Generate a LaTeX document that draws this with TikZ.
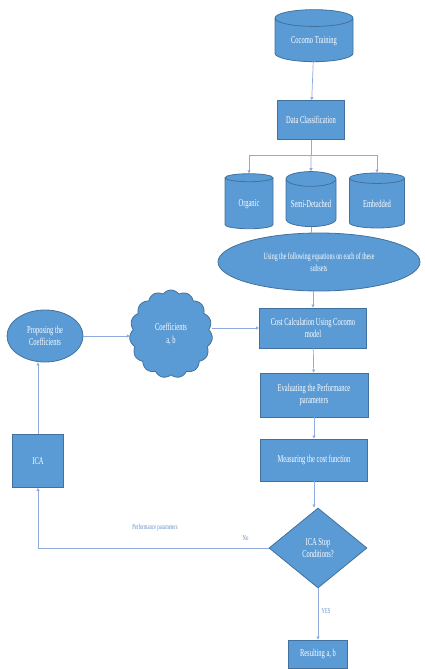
\documentclass[tikz,border=0pt]{standalone}
\usepackage{fontspec}
\setmainfont{Liberation Serif}[FakeStretch=0.62]
\usetikzlibrary{arrows.meta,shapes.geometric,shapes.symbols}
\definecolor{boxfill}{HTML}{5B9BD5}
\definecolor{boxline}{HTML}{41719C}
\definecolor{wire}{HTML}{8FAADC}
\definecolor{labtext}{HTML}{5B8FC8}

\begin{document}
\begin{tikzpicture}[x=1pt,y=-1pt,
font=\fontsize{10.5}{12.5}\selectfont,
box/.style={draw=boxline,fill=boxfill,text=white,line width=0.8pt,align=center,inner sep=1pt},
stepbox/.style={box,rectangle,minimum width=#1},
store/.style={box,cylinder,shape border rotate=90,aspect=0.35},
flow/.style={wire,line width=0.7pt,-{Triangle[length=3pt,width=3pt]}},
wirelabel/.style={text=labtext,font=\fontsize{7.5}{8}\selectfont}]
\useasboundingbox (0,0) rectangle (425,669);
% main column
\node[store,minimum width=78pt,minimum height=52pt] (train) at (314,41) {Cocomo Training};
\node[stepbox=67pt,minimum height=39pt] (classify) at (311,120) {Data Classification};
\coordinate (split) at (311,155);
\node[store,minimum width=48pt,minimum height=55pt] (organic) at (249,204) {Organic};
\node[store,minimum width=50pt,minimum height=55pt] (semi) at (311,204) {Semi-Detached};
\node[store,minimum width=55pt,minimum height=55pt] (embedded) at (377,204) {Embedded};
\node[box,ellipse,minimum width=202pt,minimum height=58pt,inner sep=0pt,font=\fontsize{9.5}{11.5}\selectfont] (equations) at (319,262) {Using the following equations on each of these\\subsets};
\node[stepbox=107pt,minimum height=40pt] (costcalc) at (313,328) {Cost Calculation Using Cocomo\\model};
\node[stepbox=108pt,minimum height=44pt] (evaluate) at (314,395) {Evaluating the Performance\\parameters};
\node[stepbox=107pt,minimum height=42pt] (measure) at (314,460) {Measuring the cost function};
\node[box,diamond,minimum width=98pt,minimum height=80pt,inner sep=0pt] (stop) at (318,548) {ICA Stop\\Conditions?};
\node[stepbox=59pt,minimum height=28pt] (result) at (318,654) {Resulting a, b};
% ICA loop
\node[stepbox=51pt,minimum height=53pt] (ica) at (38,461) {ICA};
\node[box,ellipse,minimum width=76pt,minimum height=52pt,inner sep=0pt] (propose) at (45,336) {Proposing the\\Coefficients};
\node[box,cloud,cloud puffs=15,cloud puff arc=110,minimum width=83pt,minimum height=88pt,inner sep=0pt] (coeffs) at (171,334) {Coefficients\\a, b};
% connectors
\draw[flow] (train) -- (classify);
\draw[wire,line width=0.7pt] (classify) -- (split);
\draw[flow] (split) -| (organic.north);
\draw[flow] (split) -- (semi.north);
\draw[flow] (split) -| (embedded.north);
\draw[wire,line width=0.7pt] (semi.south) -- (equations.north -| semi.south);
\draw[flow] (equations.south -| costcalc.north) -- (costcalc.north);
\draw[flow] (costcalc) -- (evaluate);
\draw[flow] (evaluate) -- (measure);
\draw[flow] (measure.south) -- (stop.north -| measure.south);
\draw[flow] (stop) -- node[wirelabel,right,pos=0.45] {YES} (result);
\draw[flow] (stop.west) -| node[wirelabel,pos=0.05,above=4pt] {No} (ica.south);
\node[wirelabel] (perflabel) at (155,528) {Performance parameters};
\draw[flow] (ica.north) -- (ica.north |- propose.south);
\draw[flow] (propose) -- (coeffs.west |- propose.east);
\draw[flow] (coeffs.east |- costcalc.west) -- (costcalc.west);
\end{tikzpicture}
\end{document}
